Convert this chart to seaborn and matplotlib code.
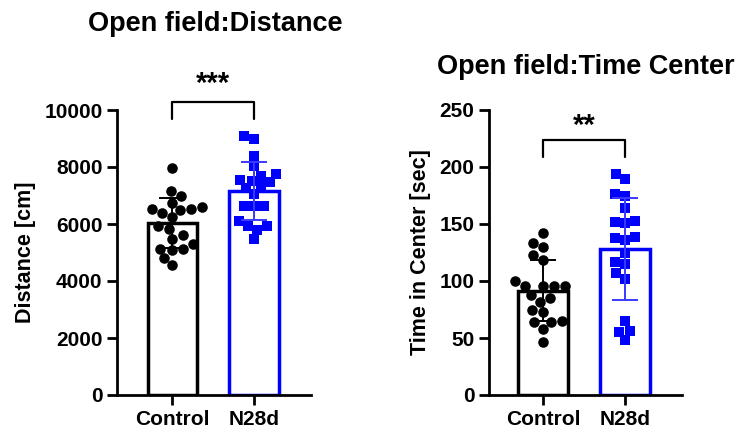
import numpy as np
import pandas as pd
import matplotlib
matplotlib.use("Agg")
import matplotlib.pyplot as plt
import seaborn as sns

# ---------------- data ----------------
groups = ["Control", "N28d"]

distance_control = [7960, 7170, 6970, 6740, 6600, 6500, 6540, 6530, 6390, 6240,
                    5840, 5920, 5630, 5490, 5315, 5140, 5140, 5100, 4790, 4560]
distance_n28d = [9090, 8975, 8390, 8020, 7750, 7470, 7520, 7550, 7690, 7260,
                 7320, 7060, 6620, 6640, 6620, 6095, 5800, 5920, 5945, 5480]

center_control = [142.4, 129.5, 133.0, 122.8, 118.4, 100.3, 95.6, 95.6, 95.6, 95.6,
                  84.8, 81.9, 74.6, 73.1, 64.3, 65.2, 63.8, 57.9, 46.2, 88.0]
center_n28d = [193.6, 189.2, 174.9, 176.3, 164.3, 152.0, 152.6, 150.6, 137.4, 138.3,
               136.0, 124.8, 114.9, 116.4, 106.7, 101.8, 64.9, 56.1, 55.5, 48.2]

titles = ["Open field:Distance", "Open field:Time Center"]
ylabels = ["Distance [cm]", "Time in Center [sec]"]
yticks_list = [[0, 2000, 4000, 6000, 8000, 10000], [0, 50, 100, 150, 200, 250]]
stars = ["***", "**"]

# ---------------- style ----------------
sns.set_style("ticks")
plt.rcParams["font.family"] = ["Liberation Sans", "DejaVu Sans"]
plt.rcParams["font.weight"] = "bold"
for key in ["text.color", "axes.labelcolor", "xtick.color", "ytick.color",
            "axes.edgecolor"]:
    plt.rcParams[key] = "black"

colors = {"Control": "#000000", "N28d": "#0000ff"}
err_colors = {"Control": "#000000", "N28d": "#3a3aff"}
markers = {"Control": "o", "N28d": "s"}
msizes = {"Control": 7.6, "N28d": 7.0}

fig = plt.figure(figsize=(7.41, 4.37), dpi=100)
W, H = 741, 437

def px_axes(x0, x1, ytop, ybot):
    return fig.add_axes([x0 / W, 1 - ybot / H, (x1 - x0) / W, (ybot - ytop) / H])

axes = [px_axes(117, 311, 110, 395), px_axes(489, 682, 110, 395)]
xlims = [(-0.68, 1.70), (-0.66, 1.70)]
bracket = [(9674, 10291), (209, 223.7)]
star_y = [10900, 236]
title_pos = [(215, 24), (586, 67)]

datasets = [(distance_control, distance_n28d), (center_control, center_n28d)]

for i, ax in enumerate(axes):
    c, n = datasets[i]
    df = pd.DataFrame({"group": ["Control"] * len(c) + ["N28d"] * len(n),
                       "value": list(c) + list(n)})
    sns.barplot(data=df, x="group", y="value", hue="group", order=groups,
                hue_order=groups, palette=colors, fill=False, errorbar=None,
                width=0.61, linewidth=2.5, legend=False, ax=ax, zorder=1)
    for g in groups:
        sub = df[df["group"] == g]
        sns.swarmplot(data=sub, x="group", y="value", order=groups,
                      color=colors[g], marker=markers[g], size=msizes[g],
                      linewidth=0, ax=ax, zorder=3)
    for j, g in enumerate(groups):
        vals = np.asarray(df.loc[df["group"] == g, "value"], dtype=float)
        m, s = vals.mean(), vals.std(ddof=1)
        ax.errorbar(j, m, yerr=s, color=err_colors[g], elinewidth=1.4,
                    capsize=9.7, capthick=1.4, zorder=5)

    ax.set_xlim(*xlims[i])
    yt = yticks_list[i]
    ax.set_ylim(yt[0], yt[-1])
    ax.set_yticks(yt)
    ax.set_yticklabels([str(v) for v in yt])
    ax.set_xlabel("")
    ax.set_ylabel(ylabels[i], fontsize=15.5, fontweight="bold", labelpad=6)
    for sp in ["top", "right"]:
        ax.spines[sp].set_visible(False)
    for sp in ["left", "bottom"]:
        ax.spines[sp].set_linewidth(2.0)
        ax.spines[sp].set_color("black")
    ax.tick_params(axis="both", width=2.0, length=7.5, labelsize=15, pad=3,
                   colors="black")
    for lab in ax.get_xticklabels() + ax.get_yticklabels():
        lab.set_fontweight("bold")

    # significance bracket
    lo, hi = bracket[i]
    ax.plot([0, 0, 1, 1], [lo, hi, hi, lo], color="black", lw=1.6,
            clip_on=False, zorder=6)
    ax.text(0.5, star_y[i], stars[i], ha="center", va="center", fontsize=21,
            fontweight="bold", clip_on=False, color="black")

    tx, ty = title_pos[i]
    fig.text(tx / W, 1 - ty / H, titles[i], ha="center", va="center",
             fontsize=19.5, fontweight="bold", color="black")

fig.savefig("out.png", dpi=100)
